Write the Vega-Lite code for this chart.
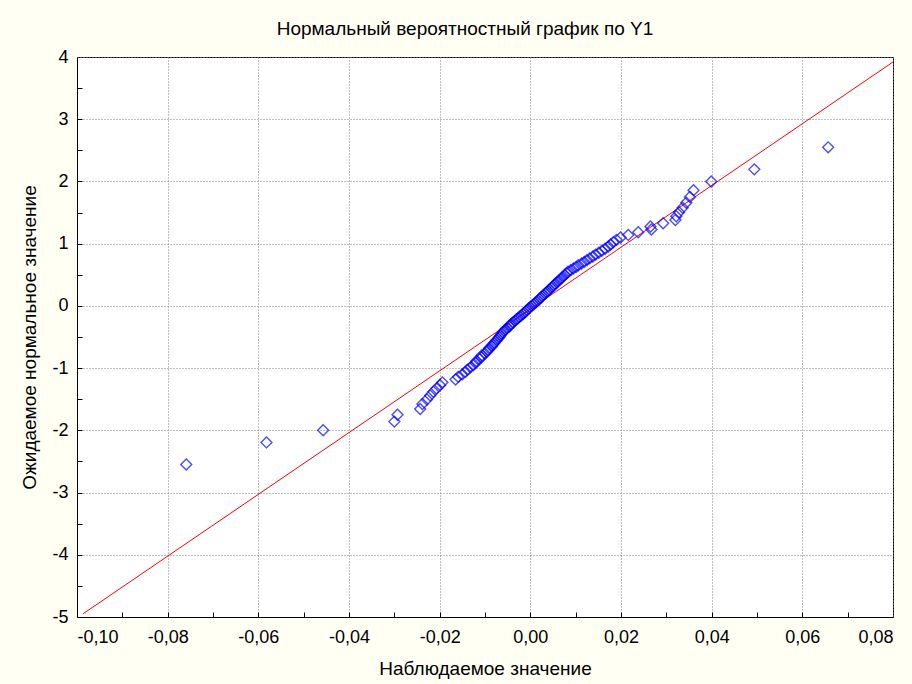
{
  "$schema": "https://vega.github.io/schema/vega-lite/v6.json",
  "width": 816,
  "height": 560,
  "autosize": {"type": "none"},
  "padding": {"left": 77, "top": 57, "right": 19, "bottom": 67},
  "background": "#FFFFF4",
  "title": {"text": "Нормальный вероятностный график по Y1", "font": "Liberation Sans", "fontSize": 19, "fontWeight": "normal", "color": "black", "offset": 9, "dx": -20},
  "config": {
    "view": {"fill": "white", "stroke": "black", "strokeWidth": 1},
    "axis": {"labelFont": "Liberation Sans", "labelFontSize": 18, "labelColor": "black", "titleFont": "Liberation Sans", "titleFontSize": 19, "titleFontWeight": "normal", "titleColor": "black", "domainColor": "black", "tickColor": "black", "gridColor": "#808080", "gridDash": [1, 2], "gridOpacity": 1}
  },
  "datasets": {
    "line": [{"x": -0.0987, "y": -4.95}, {"x": 0.08, "y": 3.92}],
    "pts": [
      {"x": -0.0759, "y": -2.548}, {"x": -0.0582, "y": -2.194}, {"x": -0.0457, "y": -2.0}, {"x": -0.03, "y": -1.86}, {"x": -0.0293, "y": -1.749},
      {"x": -0.0243, "y": -1.657}, {"x": -0.0238, "y": -1.576}, {"x": -0.0228, "y": -1.505}, {"x": -0.0221, "y": -1.44}, {"x": -0.0214, "y": -1.381},
      {"x": -0.0207, "y": -1.327}, {"x": -0.0199, "y": -1.276}, {"x": -0.0194, "y": -1.229}, {"x": -0.0165, "y": -1.184}, {"x": -0.0159, "y": -1.141},
      {"x": -0.015, "y": -1.1}, {"x": -0.0143, "y": -1.061}, {"x": -0.0139, "y": -1.024}, {"x": -0.0132, "y": -0.988}, {"x": -0.0126, "y": -0.953},
      {"x": -0.0121, "y": -0.919}, {"x": -0.0119, "y": -0.887}, {"x": -0.0112, "y": -0.855}, {"x": -0.0108, "y": -0.824}, {"x": -0.0107, "y": -0.794},
      {"x": -0.01, "y": -0.764}, {"x": -0.0096, "y": -0.736}, {"x": -0.0093, "y": -0.707}, {"x": -0.0091, "y": -0.68}, {"x": -0.0085, "y": -0.652},
      {"x": -0.0083, "y": -0.626}, {"x": -0.008, "y": -0.6}, {"x": -0.0077, "y": -0.574}, {"x": -0.0074, "y": -0.548}, {"x": -0.0071, "y": -0.523},
      {"x": -0.0068, "y": -0.498}, {"x": -0.0066, "y": -0.474}, {"x": -0.0064, "y": -0.45}, {"x": -0.0061, "y": -0.426}, {"x": -0.0058, "y": -0.402},
      {"x": -0.0055, "y": -0.379}, {"x": -0.0051, "y": -0.355}, {"x": -0.0046, "y": -0.332}, {"x": -0.0044, "y": -0.309}, {"x": -0.0042, "y": -0.287},
      {"x": -0.0038, "y": -0.264}, {"x": -0.0034, "y": -0.241}, {"x": -0.0031, "y": -0.219}, {"x": -0.0027, "y": -0.197}, {"x": -0.0024, "y": -0.175},
      {"x": -0.002, "y": -0.153}, {"x": -0.0016, "y": -0.131}, {"x": -0.0013, "y": -0.109}, {"x": -0.001, "y": -0.087}, {"x": -0.0007, "y": -0.065},
      {"x": -0.0004, "y": -0.044}, {"x": -0.0001, "y": -0.022}, {"x": 0.0003, "y": 0.0}, {"x": 0.0007, "y": 0.022}, {"x": 0.001, "y": 0.044},
      {"x": 0.0013, "y": 0.065}, {"x": 0.0017, "y": 0.087}, {"x": 0.002, "y": 0.109}, {"x": 0.0023, "y": 0.131}, {"x": 0.0026, "y": 0.153},
      {"x": 0.0029, "y": 0.175}, {"x": 0.0033, "y": 0.197}, {"x": 0.0036, "y": 0.219}, {"x": 0.0039, "y": 0.241}, {"x": 0.0042, "y": 0.264},
      {"x": 0.0046, "y": 0.287}, {"x": 0.0049, "y": 0.309}, {"x": 0.0052, "y": 0.332}, {"x": 0.0055, "y": 0.355}, {"x": 0.0059, "y": 0.379},
      {"x": 0.0062, "y": 0.402}, {"x": 0.0066, "y": 0.426}, {"x": 0.0069, "y": 0.45}, {"x": 0.0073, "y": 0.474}, {"x": 0.0076, "y": 0.498},
      {"x": 0.008, "y": 0.523}, {"x": 0.0083, "y": 0.548}, {"x": 0.0089, "y": 0.574}, {"x": 0.0095, "y": 0.6}, {"x": 0.0101, "y": 0.626},
      {"x": 0.0106, "y": 0.652}, {"x": 0.0113, "y": 0.68}, {"x": 0.0119, "y": 0.707}, {"x": 0.0125, "y": 0.736}, {"x": 0.0131, "y": 0.764},
      {"x": 0.0138, "y": 0.794}, {"x": 0.0144, "y": 0.824}, {"x": 0.0151, "y": 0.855}, {"x": 0.0158, "y": 0.887}, {"x": 0.0165, "y": 0.919},
      {"x": 0.0172, "y": 0.953}, {"x": 0.0177, "y": 0.988}, {"x": 0.0183, "y": 1.024}, {"x": 0.019, "y": 1.061}, {"x": 0.0199, "y": 1.1},
      {"x": 0.0216, "y": 1.141}, {"x": 0.0238, "y": 1.184}, {"x": 0.0267, "y": 1.229}, {"x": 0.0265, "y": 1.276}, {"x": 0.0293, "y": 1.327},
      {"x": 0.032, "y": 1.381}, {"x": 0.0322, "y": 1.44}, {"x": 0.0328, "y": 1.505}, {"x": 0.0336, "y": 1.576}, {"x": 0.0344, "y": 1.657},
      {"x": 0.0352, "y": 1.749}, {"x": 0.036, "y": 1.86}, {"x": 0.0399, "y": 2.0}, {"x": 0.0494, "y": 2.194}, {"x": 0.0657, "y": 2.548}
    ]
  },
  "resolve": {"axis": {"x": "independent", "y": "independent"}},
  "layer": [
    {
      "data": {"name": "line"},
      "mark": {"type": "line", "color": "red", "strokeWidth": 1, "clip": true},
      "encoding": {
        "x": {"field": "x", "type": "quantitative", "scale": {"domain": [-0.1, 0.08], "nice": false, "zero": false},
          "axis": {"orient": "bottom", "values": [-0.1, -0.08, -0.06, -0.04, -0.02, 0, 0.02, 0.04, 0.06, 0.08], "grid": true, "ticks": false, "domain": true, "labelPadding": 11, "titlePadding": 13, "title": "Наблюдаемое значение",
            "labelExpr": "replace(replace(format(datum.value, '.2f'), '.', ','), '\u2212', '-')"}},
        "y": {"field": "y", "type": "quantitative", "scale": {"domain": [-5, 4], "nice": false, "zero": false},
          "axis": {"orient": "left", "values": [-5, -4, -3, -2, -1, 0, 1, 2, 3, 4], "grid": true, "ticks": false, "domain": true, "labelPadding": 9, "titlePadding": 12, "title": "Ожидаемое нормальное значение",
            "labelExpr": "replace(format(datum.value, 'd'), '\u2212', '-')"}}
      }
    },
    {
      "data": {"name": "pts"},
      "mark": {"type": "point", "shape": "diamond", "filled": false, "color": "blue", "size": 120, "strokeWidth": 1.4},
      "encoding": {
        "x": {"field": "x", "type": "quantitative",
          "axis": {"orient": "bottom", "offset": -5, "values": [-0.09, -0.07, -0.05, -0.03, -0.01, 0.01, 0.03, 0.05, 0.07, -0.08, -0.06, -0.04, -0.02, 0, 0.02, 0.04, 0.06], "grid": false, "labels": false, "domain": false, "ticks": true, "tickSize": 5, "tickWidth": 1, "tickColor": "black", "title": null}},
        "y": {"field": "y", "type": "quantitative",
          "axis": {"orient": "left", "offset": -5, "values": [-4.5, -3.5, -2.5, -1.5, -0.5, 0.5, 1.5, 2.5, 3.5, -4, -3, -2, -1, 0, 1, 2, 3], "grid": false, "labels": false, "domain": false, "ticks": true, "tickSize": 5, "tickWidth": 1, "tickColor": "black", "title": null}}
      }
    }
  ]
}
